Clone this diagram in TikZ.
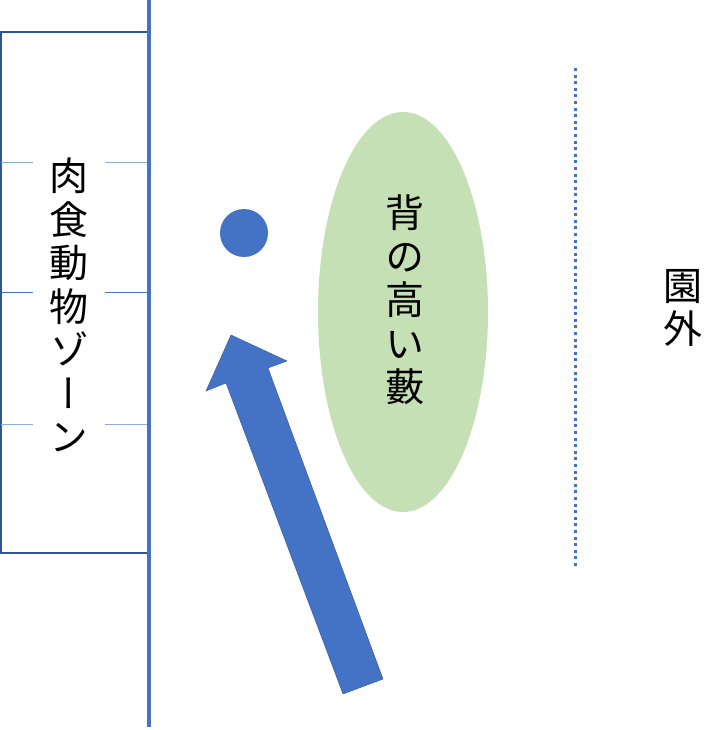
\documentclass[tikz,border=0pt]{standalone}
\usepackage{fontspec}
\usetikzlibrary{shapes.geometric}
\newfontfamily\jpfont[RawFeature=+vert]{Noto Sans CJK JP}
\definecolor{officeblue}{HTML}{4472C4}
\definecolor{darkblue}{HTML}{2F5597}
\definecolor{lightblue}{HTML}{8FAADC}
\definecolor{bushgreen}{HTML}{C5E0B4}
\begin{document}
\begin{tikzpicture}
  \tikzset{
    vtext/.style={
      align=center,
      inner sep=0pt,
      font=\jpfont\fontsize{39}{43.5}\selectfont
    },
    zonebox/.style={
      draw=darkblue,
      line width=1.3pt
    },
    gridline/.style={
      draw=lightblue,
      line width=0.8pt
    },
    fence/.style={
      draw=officeblue,
      line width=3.4pt
    },
    boundary/.style={
      draw=officeblue,
      line width=3pt,
      dash pattern=on 3pt off 3.6pt
    },
    bush/.style={
      ellipse,
      fill=bushgreen,
      minimum width=170pt,
      minimum height=400pt,
      inner sep=0pt
    },
    animal/.style={
      circle,
      fill=officeblue,
      minimum size=48pt,
      inner sep=0pt
    }
  }

  \useasboundingbox (0pt, 0pt) rectangle (720pt, -730pt);

  \draw[zonebox] (1pt, -32pt) rectangle (149pt, -553pt);
  \draw[gridline] (1pt, -162pt) -- (149pt, -162pt);
  \draw[gridline, draw=officeblue] (1pt, -292pt) -- (149pt, -292pt);
  \draw[gridline] (1pt, -424pt) -- (149pt, -424pt);
  \node[vtext, fill=white, minimum width=72pt] (zone) at (69pt, -305pt)
    {肉\\食\\動\\物\\ゾ\\ー\\ン};
  \draw[fence] (149pt, 0pt) -- (149pt, -727pt);

  \node[bush] (thicket) at (403pt, -312pt) {};
  \node[vtext] (thicketlabel) at (405pt, -300pt) {背\\の\\高\\い\\藪};

  \node[animal] (prey) at (244pt, -233pt) {};

  \coordinate (tip) at (231pt, -335pt);
  \coordinate (headR) at (287pt, -361pt);
  \coordinate (shaftR) at (268pt, -368pt);
  \coordinate (tailR) at (383pt, -679pt);
  \coordinate (tailL) at (343pt, -694pt);
  \coordinate (shaftL) at (226pt, -383pt);
  \coordinate (headL) at (206pt, -391pt);
  \fill[officeblue, draw=darkblue, line width=0.4pt] (tip) -- (headR) -- (shaftR) -- (tailR)
    -- (tailL) -- (shaftL) -- (headL) -- cycle;

  \coordinate (gateT) at (575pt, -68pt);
  \coordinate (gateB) at (575pt, -568pt);
  \draw[boundary] (gateT) -- (gateB);
  \node[vtext] (outside) at (683pt, -308pt) {園\\外};
\end{tikzpicture}
\end{document}
